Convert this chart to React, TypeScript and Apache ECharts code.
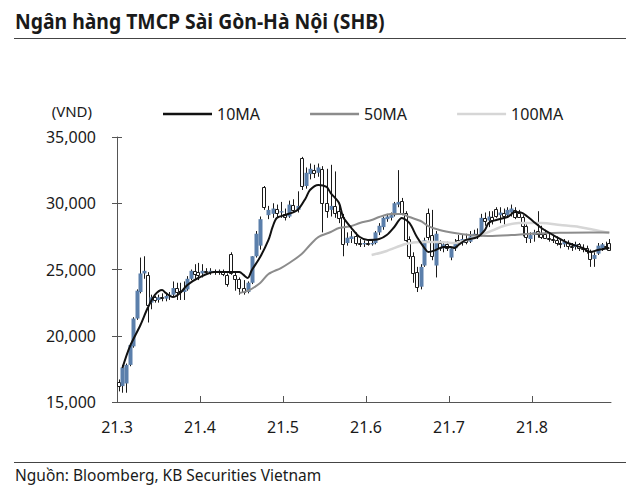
import React, { useEffect, useRef } from 'react';
import * as echarts from 'echarts';

const FONT = "'Noto Sans', sans-serif";
const TITLE = 'Ngân hàng TMCP Sài Gòn-Hà Nội (SHB)';
const SOURCE = 'Nguồn: Bloomberg, KB Securities Vietnam';
const UNIT = '(VND)';
const SERIES_NAMES = ['10MA', '50MA', '100MA'];
const MONTH_LABELS = ['21.3', '21.4', '21.5', '21.6', '21.7', '21.8'];
const MONTH_KEYS = ['03', '04', '05', '06', '07', '08'];
const Y_TICKS = [15000, 20000, 25000, 30000, 35000];

// trading days of each month (calendar day numbers)
const DAYS_MAR = [1, 2, 3, 4, 5, 8, 9, 10, 11, 12, 15, 16, 17, 18, 19, 22, 23, 24, 25, 26, 29, 30, 31];
const DAYS_APR = [1, 2, 5, 6, 7, 8, 9, 12, 13, 14, 15, 16, 19, 20, 22, 23, 26, 27, 28, 29];
const DAYS_MAY = [4, 5, 6, 7, 10, 11, 12, 13, 14, 17, 18, 19, 20, 21, 24, 25, 26, 27, 28, 31];
const DAYS_JUN = [1, 2, 3, 4, 7, 8, 9, 10, 11, 14, 15, 16, 17, 18, 21, 22, 23, 24, 25, 28, 29, 30];
const DAYS_JUL = [1, 2, 5, 6, 7, 8, 9, 12, 13, 14, 15, 16, 19, 20, 21, 22, 23, 26, 27, 28, 29, 30];
const DAYS_AUG = [2, 3, 4, 5, 6, 9, 10, 11, 12, 13, 16, 17, 18, 19, 20, 23, 24, 25, 26, 27, 30, 31];
const MONTH_DAYS = [DAYS_MAR, DAYS_APR, DAYS_MAY, DAYS_JUN, DAYS_JUL, DAYS_AUG];

// [open, close, low, high] per trading day
const OHLC_MAR = [
  [16500, 16200, 15800, 16700], [16200, 17600, 15700, 17800], [16400, 17800, 15700, 17900],
  [17800, 19300, 17700, 19400], [19200, 21300, 19100, 21400], [21300, 23400, 21200, 23500],
  [23300, 24700, 23200, 25900], [24700, 24900, 24300, 26000], [24600, 22300, 21000, 24800],
  [22500, 22900, 22000, 23100], [22900, 22700, 22500, 23000], [22700, 22900, 22500, 23100],
  [22900, 22800, 22600, 23200], [22800, 23000, 22600, 23200], [23000, 23100, 22700, 23300],
  [23100, 23600, 23000, 24100], [23600, 23300, 22700, 24000], [23400, 23300, 22700, 24000],
  [23300, 23500, 22700, 24100], [23500, 24300, 23400, 24500], [24300, 24900, 24200, 25000],
  [24900, 24700, 24300, 25400], [24800, 24600, 24200, 25500],
];
const OHLC_APR = [
  [24700, 24900, 24400, 25400], [24900, 24800, 24600, 25100], [24800, 24900, 24600, 25100],
  [24900, 24800, 24600, 25000], [24800, 24900, 24600, 25000], [24900, 24700, 24500, 25000],
  [24600, 23900, 23700, 24700], [26200, 24800, 24600, 26300], [24600, 24300, 23400, 24800],
  [24300, 23600, 23100, 24400], [23600, 23300, 23100, 24200], [23300, 24000, 23200, 24100],
  [24000, 26000, 23900, 26000], [26000, 27700, 25900, 27900], [26800, 28800, 26500, 29000],
  [31200, 29700, 29500, 31300], [29100, 29500, 28800, 29800], [29200, 29600, 28900, 30000],
  [29600, 29300, 28900, 29900], [29300, 29400, 28900, 30100],
];
const OHLC_MAY = [
  [29200, 29000, 28700, 29600], [29000, 29900, 28900, 30200], [29900, 29500, 29300, 30300],
  [29500, 29800, 29300, 30900], [33400, 31300, 31000, 33500], [31300, 32300, 31100, 32700],
  [32200, 32600, 31800, 33000], [32500, 32300, 31900, 32900], [32300, 32700, 32000, 33000],
  [32600, 30000, 27800, 32800], [30000, 29400, 28900, 32600], [29500, 29800, 29000, 32900],
  [29800, 29300, 28900, 32400], [29400, 28900, 28500, 30000], [29000, 27000, 26000, 29200],
  [27000, 27400, 26800, 27800], [27300, 27500, 27000, 27900], [27500, 27000, 26800, 27800],
  [27000, 26900, 26700, 27300], [26900, 27000, 26700, 27200],
];
const OHLC_JUN = [
  [27000, 26900, 26800, 27200], [26900, 27000, 26800, 27200], [27000, 27800, 26900, 27900],
  [27800, 28300, 27600, 28500], [28200, 28900, 28000, 29000], [28800, 29000, 28600, 29200],
  [28900, 29100, 28700, 29300], [29100, 30000, 29000, 30100], [29900, 30100, 29700, 32500],
  [30200, 29300, 29100, 30400], [29300, 27300, 27100, 29400], [27300, 26000, 25800, 27500],
  [26000, 24700, 24000, 26300], [24800, 23700, 23300, 25200], [23700, 25200, 23500, 25400],
  [25300, 27200, 25200, 27400], [29300, 27500, 27200, 29600], [27600, 26000, 25700, 29500],
  [25300, 27700, 24400, 27900], [27000, 26600, 26400, 27200], [26600, 26900, 26300, 27100],
  [26900, 26600, 26400, 27100],
];
const OHLC_JUL = [
  [25900, 26600, 25700, 26700], [26600, 27000, 26400, 27300], [27200, 27000, 26800, 27600],
  [27000, 27300, 26800, 27600], [27300, 27100, 26900, 27700], [27100, 27500, 27000, 27900],
  [27500, 27700, 27300, 28000], [27700, 27600, 27300, 28100], [27600, 28900, 27500, 29200],
  [28900, 28700, 28300, 29300], [28700, 29000, 28200, 29400], [29000, 28800, 28400, 29400],
  [29600, 29100, 28900, 29700], [29100, 29300, 28500, 29700], [29300, 29100, 28400, 29600],
  [29100, 29500, 28900, 29700], [29300, 29600, 29000, 29900], [29500, 29000, 28800, 29700],
  [29300, 29000, 28900, 29500], [29000, 28300, 27500, 29100], [28300, 27500, 27000, 28400],
  [27300, 27600, 27000, 27800],
];
const OHLC_AUG = [
  [27600, 27800, 27100, 28000], [27900, 27700, 27400, 29400], [27700, 27500, 27300, 28300],
  [27700, 27400, 27300, 28000], [27400, 27300, 27100, 27800], [27300, 27200, 27000, 27600],
  [27200, 27000, 26800, 27500], [27000, 26900, 26600, 27300], [26900, 27100, 26700, 27300],
  [27000, 26800, 26500, 27200], [26800, 26700, 26400, 27000], [26700, 26900, 26500, 27100],
  [26900, 26600, 26400, 27000], [26600, 26500, 26300, 26900], [26600, 26400, 26200, 26800],
  [26400, 25800, 25200, 26500], [25800, 26100, 25200, 26300], [26200, 26800, 26100, 27000],
  [26600, 26900, 26400, 27000], [26800, 26700, 26500, 27100], [27000, 26500, 26400, 27300],
];
const MONTH_OHLC = [OHLC_MAR, OHLC_APR, OHLC_MAY, OHLC_JUN, OHLC_JUL, OHLC_AUG];

// moving averages: [MM-DD, value]
const MA10: [string, number][] = [
  ['03-02', 17570], ['03-04', 19150], ['03-09', 20810], ['03-11', 22090], ['03-15', 23080],
  ['03-17', 23450], ['03-18', 23230], ['03-22', 22920], ['03-24', 23230], ['03-26', 23830],
  ['03-31', 24360], ['04-06', 24810], ['04-14', 24810], ['04-15', 24590], ['04-16', 24360],
  ['04-19', 24960], ['04-22', 25940], ['04-26', 27230], ['04-27', 28210], ['04-28', 28890],
  ['05-04', 29110], ['05-07', 29490], ['05-11', 30400], ['05-12', 31000], ['05-14', 31380],
  ['05-18', 31230], ['05-19', 30770], ['05-21', 30020], ['05-24', 28960], ['05-26', 28130],
  ['05-28', 27450], ['06-01', 27230], ['06-04', 27300], ['06-08', 27600], ['06-10', 28210],
  ['06-14', 28890], ['06-16', 28510], ['06-18', 27450], ['06-22', 26620], ['06-23', 26320],
  ['06-25', 26470], ['06-29', 26700], ['07-01', 26700], ['07-02', 26620], ['07-05', 26850],
  ['07-07', 27230], ['07-12', 27450], ['07-14', 27980], ['07-15', 28510], ['07-19', 28740],
  ['07-22', 28960], ['07-26', 29340], ['07-28', 29260], ['08-02', 28590], ['08-04', 28130],
  ['08-10', 27450], ['08-13', 27000], ['08-19', 26620], ['08-23', 26320], ['08-25', 26470],
  ['08-30', 26620],
];
const MA50: [string, number][] = [
  ['04-14', 23230], ['04-16', 23380], ['04-22', 23980], ['04-26', 24660], ['04-29', 25110],
  ['05-05', 25490], ['05-10', 26170], ['05-12', 26850], ['05-14', 27450], ['05-19', 27830],
  ['05-21', 28130], ['05-26', 28280], ['05-28', 28510], ['06-02', 28740], ['06-04', 28960],
  ['06-09', 29190], ['06-14', 29190], ['06-16', 28960], ['06-21', 28660], ['06-23', 28280],
  ['06-28', 27980], ['07-02', 27750], ['07-08', 27600], ['07-15', 27530], ['07-23', 27600],
  ['07-30', 27700], ['08-11', 27780], ['08-23', 27800], ['08-30', 27800],
];
const MA100: [string, number][] = [
  ['06-02', 26090], ['06-08', 26400], ['06-15', 26920], ['06-21', 27080], ['06-28', 27080],
  ['07-02', 27000], ['07-08', 27300], ['07-15', 27830], ['07-21', 28280], ['07-27', 28510],
  ['08-04', 28510], ['08-11', 28360], ['08-18', 28210], ['08-30', 27760],
];

const BLUE = '#5b7fab';
const INK = '#1a1a1a';
const MA_COLORS = ['#111111', '#8c8c8c', '#d6d6d6'];

function dateToX(key: string): number {
  const [mm, dd] = key.split('-');
  const m = MONTH_KEYS.indexOf(mm);
  const days = MONTH_DAYS[m];
  const k = days.indexOf(Number(dd));
  return m + (k + 0.5) / days.length;
}

export default function App() {
  const ref = useRef<HTMLDivElement>(null);
  useEffect(() => {
    document.body.style.margin = '0';
    if (!ref.current) return;
    const chart = echarts.init(ref.current, undefined, { renderer: 'svg', width: 640, height: 491 });

    const candles: number[][] = [];
    MONTH_OHLC.forEach((rows, m) => {
      const days = MONTH_DAYS[m];
      rows.forEach((r, k) => {
        candles.push([m + (k + 0.5) / days.length, r[0], r[1], r[2], r[3]]);
      });
    });
    const toLine = (arr: [string, number][]) => arr.map(([d, v]) => [dateToX(d), v]);

    chart.setOption({
      animation: false,
      textStyle: { fontFamily: FONT },
      grid: { left: 117, right: 29, top: 137, bottom: 89 },
      xAxis: {
        type: 'value',
        min: 0,
        max: 5.952,
        interval: 1,
        axisLine: { show: true, lineStyle: { color: '#555', width: 1 } },
        axisTick: { show: true, inside: true, length: 6, lineStyle: { color: '#555' }, customValues: [0, 1, 2, 3, 4, 5] },
        axisLabel: {
          customValues: [0, 1, 2, 3, 4, 5],
          margin: 17,
          fontSize: 16,
          color: INK,
          fontFamily: FONT,
          formatter: (v: number) => {
            const i = Math.round(v);
            return Math.abs(v - i) < 1e-6 && MONTH_LABELS[i] ? MONTH_LABELS[i] : '';
          },
        },
        splitLine: { show: false },
      },
      yAxis: [
        {
          type: 'value',
          min: Y_TICKS[0],
          max: Y_TICKS[Y_TICKS.length - 1],
          interval: 5000,
          position: 'left',
          axisLine: { show: true, lineStyle: { color: '#555', width: 1 } },
          axisTick: { show: true, inside: false, length: 5, lineStyle: { color: '#555' } },
          axisLabel: {
            margin: 21,
            fontSize: 16,
            color: INK,
            fontFamily: FONT,
            formatter: (v: number) => v.toLocaleString('en-US'),
          },
          splitLine: { show: false },
        },
        {
          type: 'value',
          min: Y_TICKS[0],
          max: Y_TICKS[Y_TICKS.length - 1],
          interval: 5000,
          position: 'left',
          axisLine: { show: false },
          axisTick: { show: true, inside: true, length: 5, lineStyle: { color: '#555' } },
          axisLabel: { show: false },
          splitLine: { show: false },
        },
      ],
      legend: {
        data: SERIES_NAMES.map((name, i) => ({ name, icon: 'rect', itemStyle: { color: MA_COLORS[i] } })),
        left: 163,
        top: 106,
        padding: 0,
        itemWidth: 49,
        itemHeight: 2.5,
        itemGap: 50,
        textStyle: { fontSize: 16, color: INK, fontFamily: FONT, lineHeight: 16 },
      },
      graphic: [
        {
          type: 'text',
          x: 15,
          y: 21,
          scaleX: 0.88,
          style: { text: TITLE, x: 0, y: 0, fill: INK, font: `bold 22px ${FONT}`, textVerticalAlign: 'middle', verticalAlign: 'middle' },
        },
        { type: 'line', shape: { x1: 14, y1: 38.5, x2: 626, y2: 38.5 }, style: { stroke: '#444', lineWidth: 1.2 } },
        {
          type: 'text',
          x: 92,
          y: 111,
          style: { text: UNIT, x: 0, y: 0, fill: INK, font: `15px ${FONT}`, textAlign: 'right', align: 'right', textVerticalAlign: 'middle', verticalAlign: 'middle' },
        },
        { type: 'line', shape: { x1: 14, y1: 462.5, x2: 626, y2: 462.5 }, style: { stroke: '#444', lineWidth: 1.2 } },
        {
          type: 'text',
          x: 15,
          y: 475,
          style: { text: SOURCE, x: 0, y: 0, fill: INK, font: `15.5px ${FONT}`, textVerticalAlign: 'middle', verticalAlign: 'middle' },
        },
      ],
      series: [
        {
          type: 'custom',
          name: 'SHB',
          data: candles,
          encode: { x: 0, y: [1, 2, 3, 4] },
          z: 2,
          renderItem: (params: any, api: any) => {
            const x = api.value(0);
            const o = api.value(1);
            const c = api.value(2);
            const l = api.value(3);
            const h = api.value(4);
            const pO = api.coord([x, o]);
            const pC = api.coord([x, c]);
            const pL = api.coord([x, l]);
            const pH = api.coord([x, h]);
            const r = Math.round(pO[0]);
            const cx = r + 0.5;
            const top = Math.min(pO[1], pC[1]);
            const bot = Math.max(pO[1], pC[1]);
            const up = c >= o;
            const body = up
              ? { type: 'rect', shape: { x: r - 1.5, y: top, width: 4, height: Math.max(bot - top, 1) }, style: { fill: BLUE } }
              : { type: 'rect', shape: { x: r - 1.5, y: Math.round(top) + 0.5, width: 3, height: Math.max(Math.round(bot - top), 1) }, style: { fill: '#fff', stroke: INK, lineWidth: 1 } };
            return {
              type: 'group',
              children: [
                { type: 'line', shape: { x1: cx, y1: pH[1], x2: cx, y2: pL[1] }, style: { stroke: INK, lineWidth: 1 } },
                body,
              ],
            };
          },
        },
        {
          type: 'line',
          name: SERIES_NAMES[2],
          data: toLine(MA100),
          smooth: 0.3,
          symbol: 'none',
          z: 3,
          lineStyle: { color: MA_COLORS[2], width: 2.5 },
          itemStyle: { color: MA_COLORS[2] },
        },
        {
          type: 'line',
          name: SERIES_NAMES[1],
          data: toLine(MA50),
          smooth: 0.3,
          symbol: 'none',
          z: 4,
          lineStyle: { color: MA_COLORS[1], width: 2 },
          itemStyle: { color: MA_COLORS[1] },
        },
        {
          type: 'line',
          name: SERIES_NAMES[0],
          data: toLine(MA10),
          smooth: 0.3,
          symbol: 'none',
          z: 5,
          lineStyle: { color: MA_COLORS[0], width: 2 },
          itemStyle: { color: MA_COLORS[0] },
        },
      ],
    });
    return () => chart.dispose();
  }, []);
  return <div ref={ref} style={{ width: 640, height: 491 }} />;
}
